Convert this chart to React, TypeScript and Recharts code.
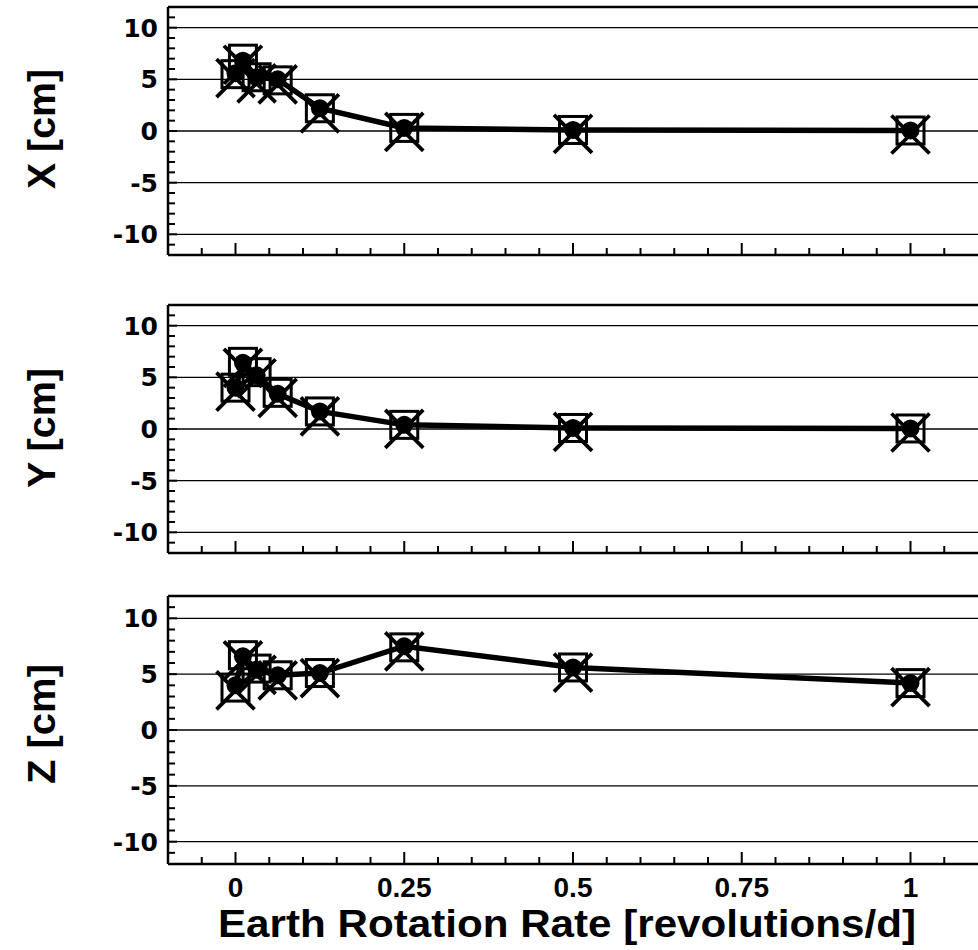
import React from 'react';
import { ScatterChart, Scatter, XAxis, YAxis, ReferenceLine } from 'recharts';

// Earth rotation rate [revolutions/d]
const rates = [0, 0.011, 0.03125, 0.0625, 0.125, 0.25, 0.5, 1];

// X component [cm]
const xCircle = [5.6, 6.8, 5.2, 5.0, 2.2, 0.3, 0.1, 0.05];
const xSquare = [5.5, 7.0, 5.2, 4.9, 2.2, 0.3, 0.1, 0.05];
const xCross = [5.5, 6.8, 5.0, 4.9, 2.1, 0.3, 0.1, 0.05];

// Y component [cm]
const yCircle = [4.0, 6.4, 5.2, 3.4, 1.7, 0.4, 0.1, 0.05];
const ySquare = [4.0, 6.5, 5.5, 3.5, 1.7, 0.4, 0.1, 0.05];
const yCross = [4.0, 6.3, 5.3, 3.4, 1.6, 0.4, 0.1, 0.05];

// Z component [cm]
const zCircle = [4.0, 6.6, 5.4, 4.9, 5.1, 7.5, 5.6, 4.2];
const zSquare = [3.8, 6.7, 5.5, 4.9, 5.1, 7.4, 5.6, 4.2];
const zCross = [3.9, 6.6, 5.3, 4.8, 5.0, 7.4, 5.5, 4.2];

const yTicks = [-11, -10, -9, -8, -7, -6, -5, -4, -3, -2, -1, 0, 1, 2, 3, 4, 5, 6, 7, 8, 9, 10, 11];
const yMajorTicks = [-10, -5, 0, 5, 10];
const yTickLabels = ['-10', '-5', '0', '5', '10'];
const gridValues = [-10, -5, 0, 5, 10];

const xMajorTicks = [0, 0.25, 0.5, 0.75, 1];
const xTickLabels = ['0', '0.25', '0.5', '0.75', '1'];
const xMinorTicks = [-0.05, 0.05, 0.1, 0.15, 0.2, 0.3, 0.35, 0.4, 0.45, 0.55, 0.6, 0.65, 0.7, 0.8, 0.85, 0.9, 0.95, 1.05];
const xTicks = [...xMinorTicks, ...xMajorTicks].sort((a, b) => a - b);

const xTitle = 'Earth Rotation Rate [revolutions/d]';
const panelTitles = ['X [cm]', 'Y [cm]', 'Z [cm]'];

const toData = (vals: number[]) => rates.map((r, i) => ({ x: r, y: vals[i] }));

const findIdx = (arr: number[], v: number) => arr.findIndex((a) => Math.abs(a - v) < 1e-6);

const YTick = (props: any) => {
  const { x, y, payload } = props;
  const idx = findIdx(yMajorTicks, payload.value);
  const major = idx >= 0;
  return (
    <g>
      <line x1={x} y1={y} x2={x + (major ? 9 : 7)} y2={y} stroke="#000" strokeWidth={2} />
      {major && (
        <text
          x={x - 10}
          y={y + 9}
          textAnchor="end"
          fontFamily="'DejaVu Sans', sans-serif"
          fontWeight="bold"
          fontSize={25}
          fill="#000"
        >
          {yTickLabels[idx]}
        </text>
      )}
    </g>
  );
};

const makeXTick = (showLabel: boolean) => (props: any) => {
  const { x, y, payload } = props;
  const idx = findIdx(xMajorTicks, payload.value);
  const major = idx >= 0;
  return (
    <g>
      <line x1={x} y1={y} x2={x} y2={y - (major ? 12 : 7)} stroke="#000" strokeWidth={2} />
      {showLabel && major && (
        <text
          x={x}
          y={y + 33}
          textAnchor="middle"
          fontFamily="'Liberation Sans', Arial, sans-serif"
          fontWeight="bold"
          fontSize={28}
          fill="#000"
        >
          {xTickLabels[idx]}
        </text>
      )}
    </g>
  );
};

const CircleShape = (props: any) => {
  const { cx, cy } = props;
  if (cx == null || cy == null) return null;
  return <circle cx={cx} cy={cy} r={9} fill="#000" />;
};

const SquareShape = (props: any) => {
  const { cx, cy } = props;
  if (cx == null || cy == null) return null;
  return <rect x={cx - 13.5} y={cy - 13.5} width={27} height={27} fill="none" stroke="#000" strokeWidth={3} />;
};

const CrossShape = (props: any) => {
  const { cx, cy } = props;
  if (cx == null || cy == null) return null;
  const c = cy + 4;
  return (
    <g stroke="#000" strokeWidth={3.8}>
      <line x1={cx - 19} y1={c - 19} x2={cx + 19} y2={c + 19} />
      <line x1={cx - 19} y1={c + 19} x2={cx + 19} y2={c - 19} />
    </g>
  );
};

type PanelProps = {
  top: number;
  height: number;
  xAxisHeight: number;
  circle: number[];
  square: number[];
  cross: number[];
  showXLabels: boolean;
};

const Panel = ({ top, height, xAxisHeight, circle, square, cross, showXLabels }: PanelProps) => (
  <div style={{ position: 'absolute', left: 0, top }}>
    <ScatterChart width={978} height={height} margin={{ top: 7, right: 0, bottom: 0, left: 0 }}>
      <XAxis
        type="number"
        dataKey="x"
        domain={[-0.1, 1.1]}
        ticks={xTicks}
        interval={0}
        allowDataOverflow
        height={xAxisHeight}
        tickSize={0}
        tickMargin={0}
        tickLine={false}
        tick={makeXTick(showXLabels)}
        axisLine={{ stroke: '#000', strokeWidth: 2.5 }}
      />
      <YAxis
        type="number"
        dataKey="y"
        domain={[-12, 12]}
        ticks={yTicks}
        interval={0}
        allowDataOverflow
        width={168}
        tickSize={0}
        tickMargin={0}
        tickLine={false}
        tick={YTick}
        axisLine={{ stroke: '#000', strokeWidth: 2.5 }}
      />
      <ReferenceLine y={12} stroke="#000" strokeWidth={2.5} />
      {gridValues.map((g) => (
        <ReferenceLine key={g} y={g} stroke="#000" strokeWidth={1.4} />
      ))}
      <Scatter data={toData(square)} shape={SquareShape} isAnimationActive={false} />
      <Scatter data={toData(cross)} shape={CrossShape} isAnimationActive={false} />
      <Scatter
        data={toData(circle)}
        shape={CircleShape}
        line={{ stroke: '#000', strokeWidth: 5.5 }}
        lineType="joint"
        isAnimationActive={false}
      />
    </ScatterChart>
  </div>
);

const titleFont = "'Liberation Sans', Arial, sans-serif";

export default function App() {
  const labelCenters = [129, 428, 724];
  return (
    <div style={{ position: 'absolute', left: 0, top: 0, width: 978, height: 950, background: '#fff', overflow: 'hidden' }}>
      <Panel top={0} height={262} xAxisHeight={7} circle={xCircle} square={xSquare} cross={xCross} showXLabels={false} />
      <Panel top={298} height={262} xAxisHeight={7} circle={yCircle} square={ySquare} cross={yCross} showXLabels={false} />
      <Panel top={589} height={361} xAxisHeight={86} circle={zCircle} square={zSquare} cross={zCross} showXLabels={true} />
      <svg width={978} height={950} style={{ position: 'absolute', left: 0, top: 0, pointerEvents: 'none' }}>
        {panelTitles.map((t, i) => (
          <text
            key={t}
            transform={`translate(55, ${labelCenters[i]}) rotate(-90)`}
            textAnchor="middle"
            fontFamily={titleFont}
            fontWeight="bold"
            fontSize={38}
            textLength={120}
            lengthAdjust="spacingAndGlyphs"
            fill="#000"
          >
            {t}
          </text>
        ))}
        <text
          x={567}
          y={937}
          textAnchor="middle"
          fontFamily={titleFont}
          fontWeight="bold"
          fontSize={38}
          textLength={698}
          lengthAdjust="spacingAndGlyphs"
          fill="#000"
        >
          {xTitle}
        </text>
      </svg>
    </div>
  );
}
